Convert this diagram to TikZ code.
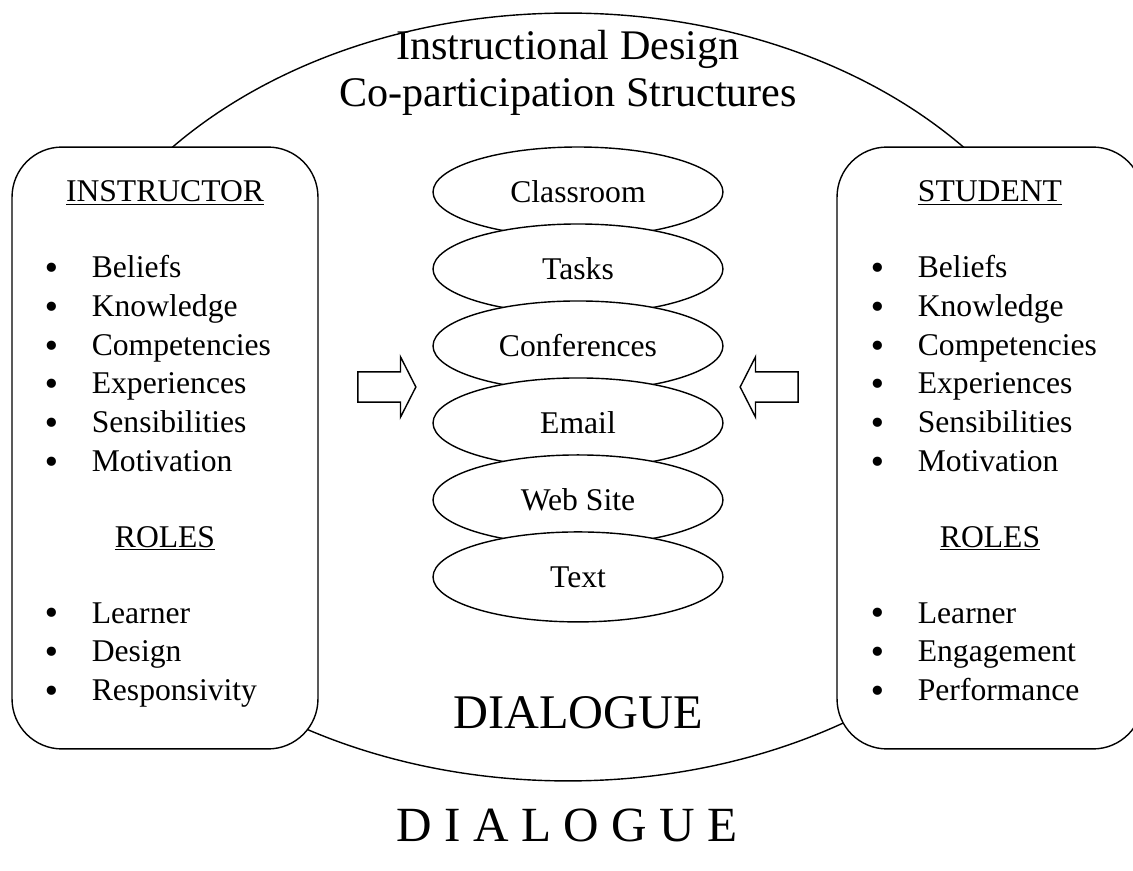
\documentclass[tikz,border=0pt]{standalone}
\usepackage{fontspec}
\setmainfont{Liberation Serif}
\newfontfamily\dotfont{DejaVu Sans}
\usetikzlibrary{positioning,shapes.geometric,shapes.arrows}

% bullet item with a fixed hanging gap
\newcommand{\itm}[1]{\makebox[0.93cm][l]{\hspace{-0.08em}\raisebox{-0.06em}{\dotfont •}}#1}

\begin{document}
\begin{tikzpicture}[x=0.02cm,y=-0.02cm,
  arena/.style={draw,ellipse,minimum width=20.84cm,minimum height=15.36cm,line width=0.8pt},
  panel/.style={draw,fill=white,rounded corners=1cm,minimum width=6.12cm,minimum height=12.04cm,line width=0.8pt},
  medium/.style={draw,fill=white,ellipse,minimum width=5.8cm,minimum height=1.8cm,outer sep=0pt,line width=0.8pt,font=\fontsize{18}{22}\selectfont},
  head/.style={anchor=base,font=\fontsize{18}{22}\selectfont},
  items/.style={anchor=base west,inner sep=0pt,font=\fontsize{18}{22}\selectfont},
  push/.style={draw,single arrow,single arrow head extend=0.3cm,single arrow tip angle=126,minimum height=1.16cm,inner xsep=0pt,inner ysep=0.29cm,line width=0.8pt}
]
\useasboundingbox (0,0) rectangle (1133,871);

% outer dialogue ellipse, boxes sit on top of it
\node[arena] (arena) at (568,397) {};
\node[align=center,font=\fontsize{24}{26.6}\selectfont] (title) at (568,73) {Instructional Design\\Co-participation Structures};

\node[panel] (instructor) at (165,448) {};
\node[panel] (student) at (990,448) {};

% instructor side
\node[head] (instrhead) at (165,202) {\underline{INSTRUCTOR}};
\node[items] (instrlist) at (45,278) {\begin{tabular}[t]{@{}l@{}}
  \itm{Beliefs}\\ \itm{Knowledge}\\ \itm{Competencies}\\
  \itm{Experiences}\\ \itm{Sensibilities}\\ \itm{Motivation}
\end{tabular}};
\node[head] (instrroles) at (165,547) {\underline{ROLES}};
\node[items] (instrroleslist) at (45,623) {\begin{tabular}[t]{@{}l@{}}
  \itm{Learner}\\ \itm{Design}\\ \itm{Responsivity}
\end{tabular}};

% student side
\node[head] (studhead) at (990,202) {\underline{STUDENT}};
\node[items] (studlist) at (871,278) {\begin{tabular}[t]{@{}l@{}}
  \itm{Beliefs}\\ \itm{Knowledge}\\ \itm{Competencies}\\
  \itm{Experiences}\\ \itm{Sensibilities}\\ \itm{Motivation}
\end{tabular}};
\node[head] (studroles) at (990,547) {\underline{ROLES}};
\node[items] (studroleslist) at (871,623) {\begin{tabular}[t]{@{}l@{}}
  \itm{Learner}\\ \itm{Engagement}\\ \itm{Performance}
\end{tabular}};

% stacked media, each one drawn over the one above
\node[medium] (classroom) at (578,192) {Classroom};
\node[medium,below=-0.26cm of classroom] (tasks) {Tasks};
\node[medium,below=-0.26cm of tasks] (conferences) {Conferences};
\node[medium,below=-0.26cm of conferences] (email) {Email};
\node[medium,below=-0.26cm of email] (website) {Web Site};
\node[medium,below=-0.26cm of website] (text) {Text};

\node[push] (pushin) at (383,387) {};
\node[push,shape border rotate=180] (pushback) at (773,387) {};

\node[font=\fontsize{27.5}{30}\selectfont] (inner) at (578,713) {DIALOGUE};
\node[font=\fontsize{28}{30}\selectfont] (outer) at (567,825) {D I A L O G U E};
\end{tikzpicture}
\end{document}
